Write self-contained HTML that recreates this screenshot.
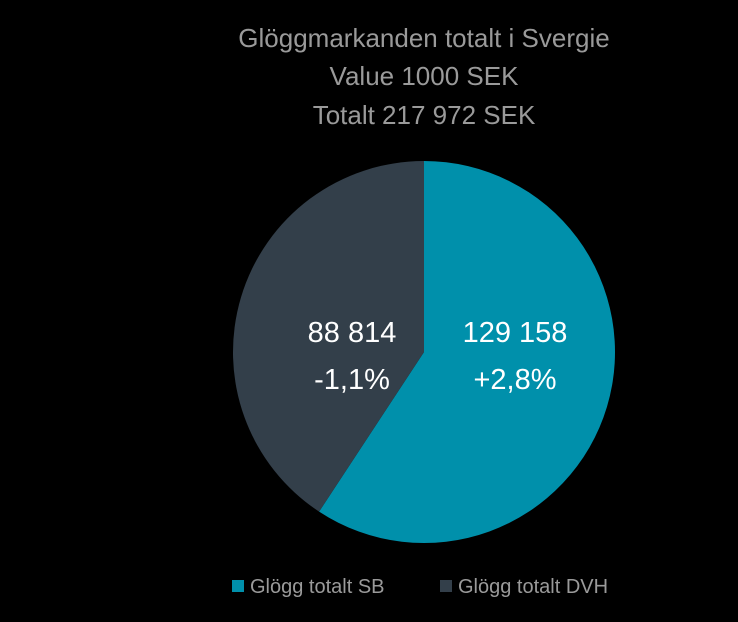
<!DOCTYPE html>
<html><head><meta charset="utf-8"><style>
html,body{margin:0;padding:0;background:#000;}
svg{display:block;font-family:"Liberation Sans",sans-serif;}
</style></head><body>
<svg width="738" height="622">
<g fill="#9a9a9a" font-size="26" text-anchor="middle">
<text x="424" y="47">Glöggmarkanden totalt i Svergie</text>
<text x="424" y="85">Value 1000 SEK</text>
<text x="424" y="124">Totalt 217 972 SEK</text>
</g>
<g id="slices"></g>
<g id="legend"></g>
</svg>
<script>
const categories=["Glögg totalt SB","Glögg totalt DVH"];
const values=[129158,88814];
const changes=["+2,8%","-1,1%"];
const valueLabels=["129 158","88 814"];
const colors=["#0090ab","#333f4a"];
const ns="http://www.w3.org/2000/svg";
const cx=424,cy=352,r=191;
const total=values.reduce((a,b)=>a+b,0);
const g=document.getElementById('slices');
let a0=0;
values.forEach((v,i)=>{
  const a1=a0+v/total*2*Math.PI;
  const p=document.createElementNS(ns,'path');
  const x0=cx+r*Math.sin(a0),y0=cy-r*Math.cos(a0),x1=cx+r*Math.sin(a1),y1=cy-r*Math.cos(a1);
  p.setAttribute('d',`M${cx},${cy}L${x0},${y0}A${r},${r} 0 ${a1-a0>Math.PI?1:0} 1 ${x1},${y1}Z`);
  p.setAttribute('fill',colors[i]);
  
  
  g.appendChild(p);
  const lx=i===0?cx+91:cx-72;
  [valueLabels[i],changes[i]].forEach((s,k)=>{
    const t=document.createElementNS(ns,'text');
    t.setAttribute('x',lx);t.setAttribute('y',342+k*47);
    t.setAttribute('fill','#fff');t.setAttribute('font-size','29');t.setAttribute('text-anchor','middle');
    
    
    t.textContent=s;g.appendChild(t);
  });
  a0=a1;
});
const lg=document.getElementById('legend');
const lxs=[232,440];
categories.forEach((c,i)=>{
  const rc=document.createElementNS(ns,'rect');
  rc.setAttribute('x',lxs[i]);rc.setAttribute('y',580);rc.setAttribute('width',12);rc.setAttribute('height',12);rc.setAttribute('fill',colors[i]);
  
  
  lg.appendChild(rc);
  const t=document.createElementNS(ns,'text');
  t.setAttribute('x',lxs[i]+18);t.setAttribute('y',593);t.setAttribute('fill','#9a9a9a');t.setAttribute('font-size','20');
  
  
  t.textContent=c;lg.appendChild(t);
});
</script>
</body></html>
